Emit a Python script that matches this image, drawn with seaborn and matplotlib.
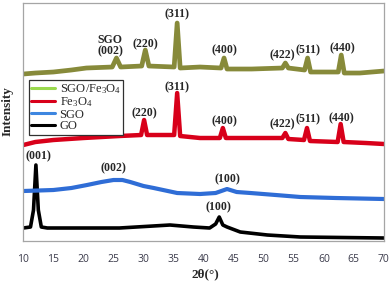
"""XRD patterns of GO, SGO, Fe3O4 and SGO/Fe3O4, stacked with offsets."""
import matplotlib
matplotlib.use("Agg")
import matplotlib.pyplot as plt
from matplotlib.lines import Line2D
import pandas as pd
import seaborn as sns

# 2theta (deg) / intensity (a.u., already offset)
SGO_FE_X = [10, 12, 15, 18, 20.5, 24.8, 25.5, 26.2, 29.7, 30.3, 30.9, 35.1, 35.6, 36.1,
            39.4, 42.9, 43.4, 43.9, 48, 53.1, 53.6, 54.1, 56.8, 57.3, 57.8, 62.4, 62.9,
            63.4, 66, 70]
SGO_FE_Y = [167, 168, 169, 171, 173, 174, 183, 174, 175, 191, 175, 174, 218, 173,
            174, 173, 183, 172, 172, 173, 178, 173, 171, 183, 169, 169, 186,
            168, 168, 170]

FE_X = [10, 12, 15, 20, 26, 29.6, 30.1, 30.6, 35.1, 35.6, 36.1, 39.4, 42.7, 43.2, 43.7,
        50.6, 53.1, 53.6, 54.1, 56.7, 57.2, 57.7, 62.3, 62.8, 63.3, 67, 70]
FE_Y = [96, 99, 101, 103, 105, 106, 121, 106, 106, 148, 105, 103, 103, 113, 103,
        103, 103, 108, 102, 101, 113, 100, 99, 117, 99, 98, 97]

SGO_X = [10, 15, 18, 20.6, 23, 25, 26.5, 27.8, 30, 31.7, 35.6, 39.4, 42, 43.9, 45.5,
         47.8, 52, 56.1, 62, 70]
SGO_Y = [50, 51, 53, 56, 59, 61, 61, 59, 55, 53, 48, 47, 48, 52, 49,
         48, 46, 44, 43, 42]

GO_X = [10, 11.2, 11.7, 12.1, 12.5, 13.0, 14, 20, 26, 31.6, 34.4, 38.3, 41.0, 42.0,
        42.6, 43.2, 43.9, 46.1, 50.6, 56.1, 70]
GO_Y = [13, 14, 31, 76, 31, 14, 13, 13, 13, 15, 16, 14, 13, 17,
        24, 16, 14, 9, 6, 4, 3]

SERIES = ["SGO/Fe3O4", "Fe3O4", "SGO", "GO"]
LEGEND_LABELS = ["SGO/Fe$_3$O$_4$", "Fe$_3$O$_4$", "SGO", "GO"]
CURVE_COLORS = {"SGO/Fe3O4": "#878a3a", "Fe3O4": "#d8001a", "SGO": "#2f6dd6", "GO": "#000000"}
LEGEND_COLORS = ["#9ad94e", "#d8001a", "#3d86e0", "#000000"]
WIDTHS = {"SGO/Fe3O4": 3.4, "Fe3O4": 3.2, "SGO": 3.0, "GO": 2.6}

# peak labels: (text, 2theta, intensity)
PEAK_LABELS = [
    ("SGO", 24.45, 201), ("(002)", 24.45, 190), ("(220)", 30.28, 196.7),
    ("(311)", 35.6, 227), ("(400)", 43.45, 191), ("(422)", 53.07, 185.3),
    ("(511)", 57.45, 191), ("(440)", 63.07, 192.7),
    ("(220)", 30.1, 128), ("(311)", 35.6, 154), ("(400)", 43.45, 120),
    ("(422)", 53.07, 116.7), ("(511)", 57.33, 121.7), ("(440)", 62.9, 122.7),
    ("(002)", 25.0, 72.7), ("(100)", 44.0, 61.7),
    ("(001)", 12.5, 84.3), ("(100)", 42.5, 33.7),
]

sns.set_theme(style="white")
plt.rcParams["font.family"] = ["Liberation Serif", "DejaVu Serif"]
plt.rcParams["mathtext.fontset"] = "custom"
plt.rcParams["mathtext.rm"] = "Liberation Serif"
plt.rcParams["mathtext.it"] = "Liberation Serif:italic"

frames = []
for name, xs, ys in [("SGO/Fe3O4", SGO_FE_X, SGO_FE_Y), ("Fe3O4", FE_X, FE_Y),
                     ("SGO", SGO_X, SGO_Y), ("GO", GO_X, GO_Y)]:
    frames.append(pd.DataFrame({"two_theta": xs, "intensity": ys, "sample": name}))
df = pd.concat(frames, ignore_index=True)

fig = plt.figure(figsize=(3.92, 2.83), dpi=100)
ax = fig.add_axes([0.0594, 0.1484, 0.920, 0.842])

for name in SERIES[::-1]:
    sns.lineplot(data=df[df["sample"] == name], x="two_theta", y="intensity",
                 color=CURVE_COLORS[name], linewidth=WIDTHS[name], ax=ax,
                 legend=False, solid_joinstyle="round")

for txt, x, y in PEAK_LABELS:
    ax.text(x, y, txt, ha="center", va="center", fontsize=8.5, fontweight="bold")

ax.set_xlim(10, 70)
ax.set_ylim(0, 238.3)
ax.set_xticks(range(10, 71, 5))
ax.set_yticks([])
ax.tick_params(axis="x", direction="in", length=3.5, width=0.8, color="#9a9a9a",
               pad=9, labelsize=7.5, labelcolor="#3a3a4a")
for lab in ax.get_xticklabels():
    lab.set_family("Open Sans")
for sp in ax.spines.values():
    sp.set_color("#a5a5a5")
    sp.set_linewidth(0.9)

ax.set_xlabel("2θ(°)", fontsize=9.5, fontweight="bold")
ax.set_ylabel("Intensity", fontsize=9.5, fontweight="bold")
ax.xaxis.set_label_coords(0.504, -0.115)
ax.yaxis.set_label_coords(-0.028, 0.545)

handles = [Line2D([0], [0], color=c, lw=2.2) for c in LEGEND_COLORS]
leg = ax.legend(handles, LEGEND_LABELS, loc="upper left", bbox_to_anchor=(0.0158, 0.6756),
                borderaxespad=0, fontsize=9, frameon=True, fancybox=False,
                labelspacing=-0.05, borderpad=0.2, handlelength=1.9, handletextpad=0.35)
leg.get_frame().set_edgecolor("#303030")
leg.get_frame().set_linewidth(0.9)
leg.get_frame().set_alpha(1)

fig.savefig("out.png", dpi=100)
